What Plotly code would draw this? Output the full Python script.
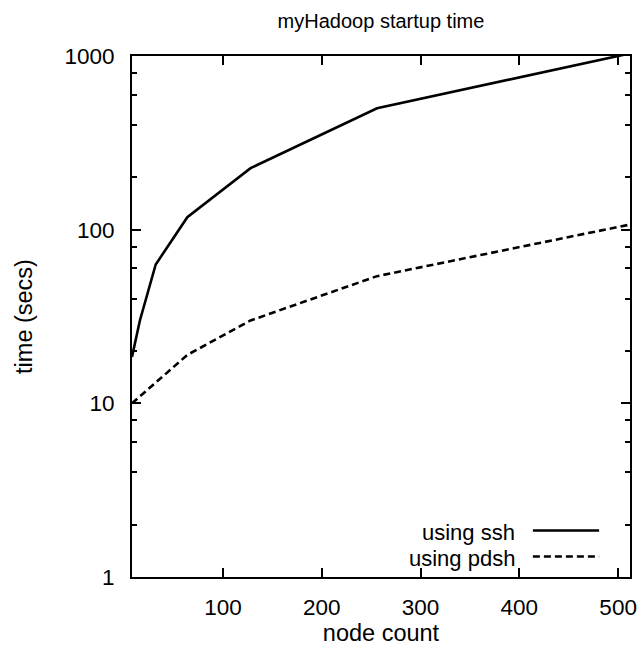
import plotly.graph_objects as go

# ---- data ----
ssh_nodes = [8, 16, 32, 64, 128, 256, 512]
ssh_time = [18.5, 30, 63, 118, 226, 500, 1035]
pdsh_nodes = [8, 64, 128, 256, 512]
pdsh_time = [10, 19, 30, 54, 107]
series_names = ["using ssh", "using pdsh"]
y_tickvals = [1, 10, 100, 1000]
y_ticktext = ["1", "10", "100", "1000"]
y_minor = [2, 4, 6, 8, 20, 40, 60, 80, 200, 400, 600, 800]
x_tickvals = [100, 200, 300, 400, 500]

FONT = "Liberation Sans, Arial, sans-serif"
DASH = "7px,4px"
fig = go.Figure()
fig.add_trace(go.Scatter(x=ssh_nodes, y=ssh_time, mode="lines", name=series_names[0],
                         line=dict(color="black", width=2.6), showlegend=False))
fig.add_trace(go.Scatter(x=pdsh_nodes, y=pdsh_time, mode="lines", name=series_names[1],
                         line=dict(color="black", width=2.6, dash=DASH), showlegend=False))

# gnuplot-style legend: text then line sample
leg_y = [0.0862, 0.0364]
dashes = ["solid", DASH]
for name, yy, d in zip(series_names, leg_y, dashes):
    fig.add_annotation(xref="paper", yref="paper", x=0.7726, y=yy, text=name,
                       showarrow=False, xanchor="right", yanchor="middle",
                       font=dict(family=FONT, size=22, color="black"))
    fig.add_shape(type="line", xref="paper", yref="paper", x0=0.805, x1=0.938,
                  y0=yy + 0.003, y1=yy + 0.003,
                  line=dict(color="black", width=2.6, dash=d))

fig.update_layout(
    width=639, height=650,
    margin=dict(l=132, r=9, t=56, b=73),
    paper_bgcolor="white", plot_bgcolor="white",
    font=dict(family=FONT, size=20, color="black"),
    title=dict(text="myHadoop startup time", x=0.5, xref="paper", y=1 - 21 / 650,
               yref="container", yanchor="middle", xanchor="center",
               font=dict(family=FONT, size=20, color="black")),
    xaxis=dict(range=[8, 512], tickvals=x_tickvals, ticks="inside", ticklen=9,
               tickwidth=1.5, tickcolor="black", showline=True, linecolor="black",
               linewidth=2, mirror="allticks", showgrid=False, zeroline=False,
               ticklabelstandoff=9, tickfont=dict(size=22.5), automargin=False,
               title=dict(text="node count", standoff=5, font=dict(size=23.5))),
    yaxis=dict(type="log", range=[0, 3], tickvals=y_tickvals, ticktext=y_ticktext,
               ticks="inside", ticklen=9, tickwidth=1.5, tickcolor="black",
               showline=True, linecolor="black", linewidth=2, mirror="allticks",
               showgrid=False, zeroline=False, ticklabelstandoff=11,
               tickfont=dict(size=22.5), automargin=False,
               minor=dict(tickvals=y_minor, ticks="inside", ticklen=5, tickwidth=1.5,
                          tickcolor="black", showgrid=False),
               title=dict(text="time (secs)", standoff=25, font=dict(size=23.5))),
)
fig.write_html("out.html")
